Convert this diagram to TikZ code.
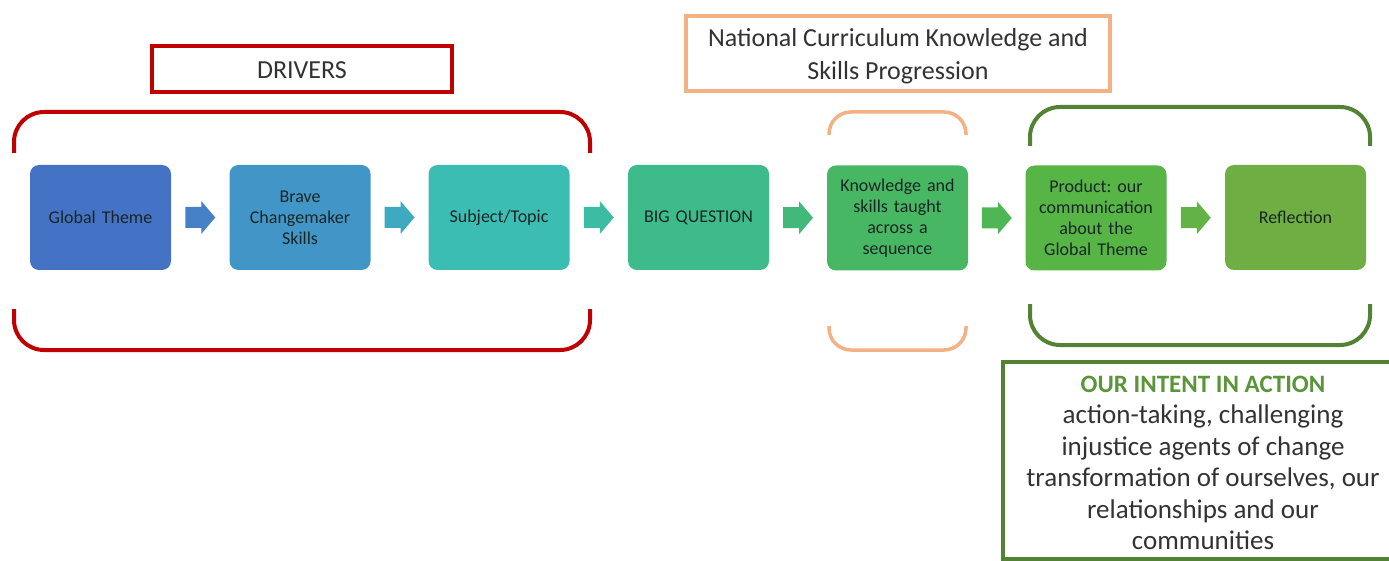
\documentclass[tikz,border=0pt]{standalone}
\usepackage{fontspec}
\setmainfont{Carlito}
\usetikzlibrary{calc}
\frenchspacing
\definecolor{cA}{HTML}{4472C4}
\definecolor{cB}{HTML}{4196C7}
\definecolor{cC}{HTML}{3BBDB3}
\definecolor{cD}{HTML}{3DBB8A}
\definecolor{cE}{HTML}{48B763}
\definecolor{cF}{HTML}{56B545}
\definecolor{cG}{HTML}{6EAE42}
\definecolor{aA}{HTML}{4680C6}
\definecolor{aB}{HTML}{3EAABF}
\definecolor{aC}{HTML}{3CBCA2}
\definecolor{aD}{HTML}{42B97A}
\definecolor{aE}{HTML}{4FB655}
\definecolor{aF}{HTML}{62B245}
\definecolor{redline}{HTML}{C00000}
\definecolor{orangeline}{HTML}{F4B183}
\definecolor{greenline}{HTML}{548235}
\definecolor{greentext}{HTML}{5B9539}
\definecolor{boxtext}{HTML}{1A2626}
\definecolor{graytext}{HTML}{333333}
\newcommand{\blockarr}[3]{% from node, to node, colour
  \fill[#3, shift={($(#1.east)!0.5!(#2.west)$)}]
    (-15,-10.5) -- (1,-10.5) -- (1,-16.5) -- (15,0) -- (1,16.5) -- (1,10.5) -- (-15,10.5) -- cycle;}
\begin{document}
\begin{tikzpicture}[x=1pt,y=-1pt,
  stepbox/.style={rounded corners=9pt, minimum width=141pt, minimum height=105pt,
    text width=134pt, align=center, inner sep=0pt, text=boxtext,
    font=\fontsize{18}{21}\selectfont},
  bracket/.style={line width=4pt, rounded corners=30pt},
  labelbox/.style={inner sep=0pt, align=center, text=graytext}
]
\useasboundingbox (0,0) rectangle (1389,561);
\fill[white] (0,0) rectangle (1389,561);

% top label boxes
\draw[redline, line width=4pt] (152,46) rectangle (452,92);
\node[labelbox, font=\fontsize{26}{30}\selectfont] (drivers) at (302,70) {DRIVERS};
\draw[orangeline, line width=3.5pt] (686,16) rectangle (1110,91);
\node[labelbox, font=\fontsize{26}{33}\selectfont] (natcur) at (898,56)
  {National Curriculum Knowledge and\\Skills Progression};

% brackets
\draw[redline, bracket] (14,153) -- (14,112) -- (590,112) -- (590,153);
\draw[redline, bracket] (14,309) -- (14,350) -- (590,350) -- (590,309);
\draw[orangeline, line width=3.5pt, rounded corners=22pt] (829,135) -- (829,112) -- (966,112) -- (966,135);
\draw[orangeline, line width=3.5pt, rounded corners=22pt] (829,326) -- (829,350) -- (966,350) -- (966,326);
\draw[greenline, bracket] (1030,146) -- (1030,107) -- (1370,107) -- (1370,146);
\draw[greenline, bracket] (1030,304) -- (1030,345) -- (1370,345) -- (1370,304);

% process boxes
\node[stepbox, fill=cA] (n1) at (100.5,217.5) {Global Theme};
\node[stepbox, fill=cB] (n2) at (300,217.5) {Brave\\Changemaker\\Skills};
\node[stepbox, fill=cC] (n3) at (499,217.5) {Subject/Topic};
\node[stepbox, fill=cD] (n4) at (698.5,217.5) {BIG QUESTION};
\node[stepbox, fill=cE] (n5) at (897.5,218) {Knowledge and\\skills taught\\across a\\sequence};
\node[stepbox, fill=cF] (n6) at (1096,218) {Product: our\\communication\\about the\\Global Theme};
\node[stepbox, fill=cG] (n7) at (1295.5,217.5) {Reflection};

% block arrows
\blockarr{n1}{n2}{aA}
\blockarr{n2}{n3}{aB}
\blockarr{n3}{n4}{aC}
\blockarr{n4}{n5}{aD}
\blockarr{n5}{n6}{aE}
\blockarr{n6}{n7}{aF}

% intent box
\draw[greenline, line width=4pt] (1400,362) -- (1003,362) -- (1003,559) -- (1400,559);
\node[labelbox, font=\fontsize{27}{31.5}\selectfont] (intent) at (1203,463)
  {{\fontsize{25}{31.5}\selectfont\bfseries\color{greentext}OUR INTENT IN ACTION}\\
   action-taking, challenging\\
   injustice agents of change\\
   transformation of ourselves, our\\
   relationships and our\\
   communities};
\end{tikzpicture}
\end{document}
